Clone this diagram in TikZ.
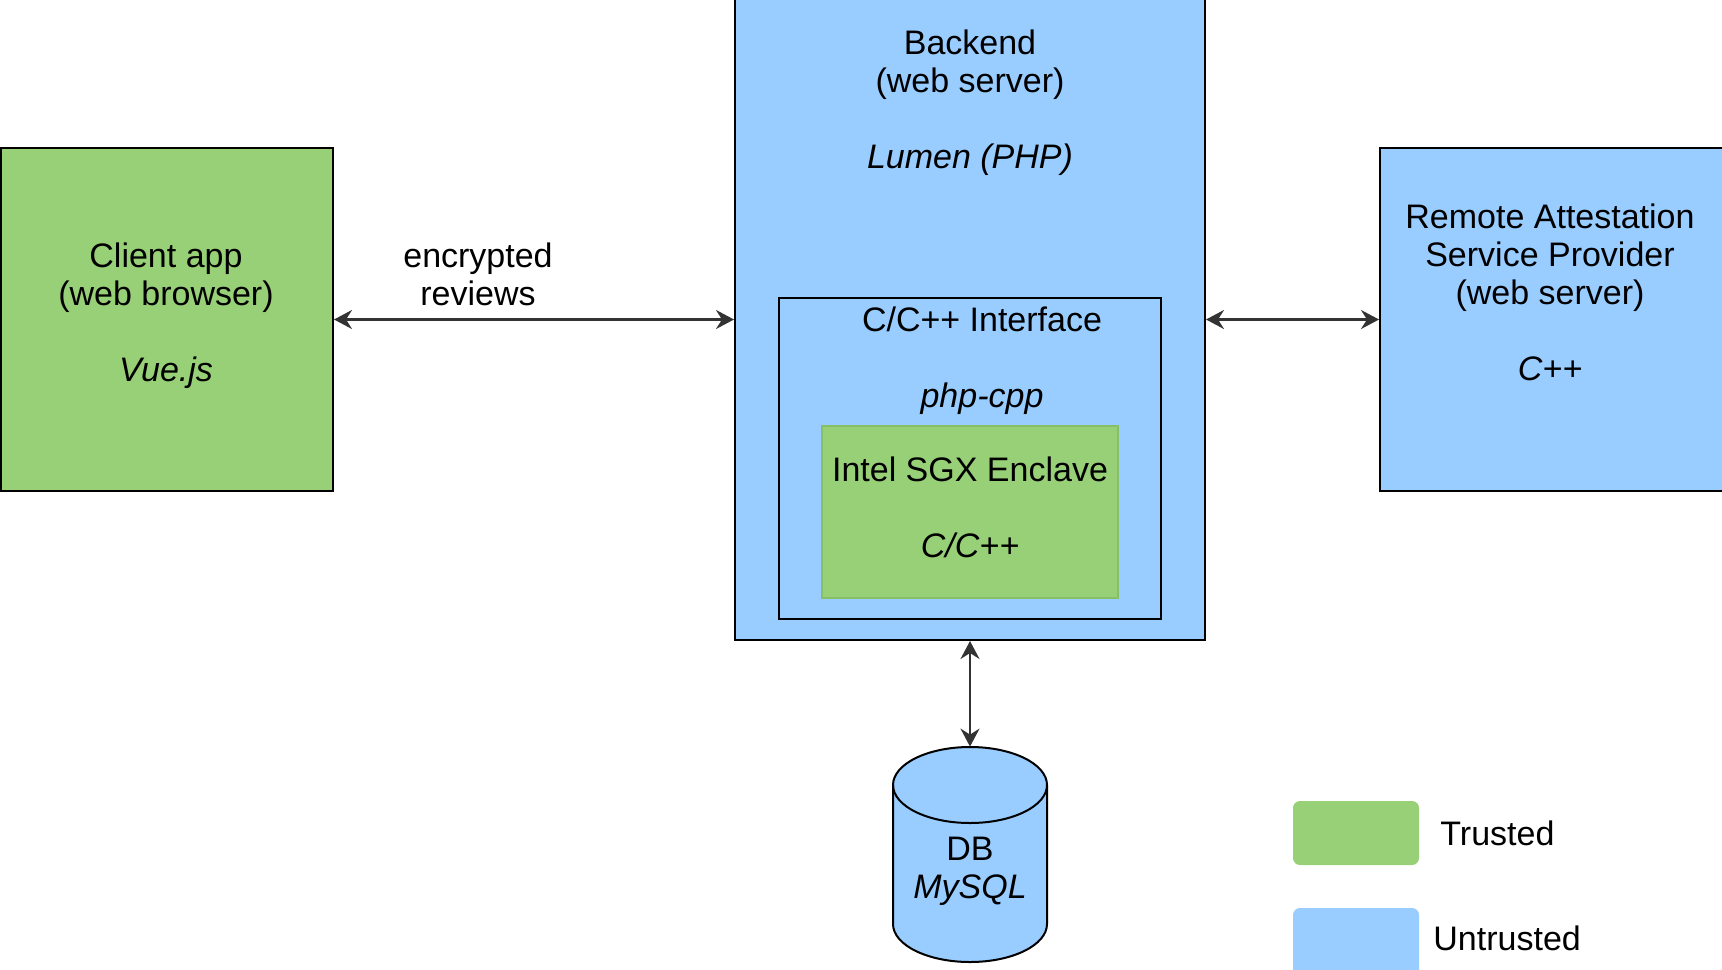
\documentclass[tikz,border=0pt]{standalone}
\usepackage{fontspec}
\setmainfont{Liberation Sans}
\usetikzlibrary{fit,arrows.meta}
\definecolor{tgreen}{HTML}{97D077}
\definecolor{ublue}{HTML}{99CCFF}
\definecolor{egreen}{HTML}{88C06A}
\begin{document}
\begin{tikzpicture}[x=0.5pt,y=-0.5pt,
  font=\fontsize{17}{19}\selectfont,
  box/.style={draw=black, line width=1pt, inner sep=0pt},
  trusted/.style={fill=tgreen},
  untrusted/.style={fill=ublue},
  txt/.style={align=center, inner sep=0pt},
  link/.style={line width=1.1pt, draw=black!80, {Stealth[length=9pt,width=9.5pt,inset=3pt]}-{Stealth[length=9pt,width=9.5pt,inset=3pt]}},
  legendbox/.style={rounded corners=3.5pt, inner sep=0pt}]
\clip (0,0) rectangle (1722,969);
\fill[white] (0,0) rectangle (1722,969);

% Client
\node[box, trusted, fit={(1,148)(333,491)}] (client) {};
\node[txt] (clienttxt) at (166,316) {Client app\\(web browser)\\[19pt]\textit{Vue.js}};

% Backend
\node[box, untrusted, fit={(735,-3)(1205,640)}] (backend) {};
\node[txt] (backendtxt) at (970,103) {Backend\\(web server)\\[19pt]\textit{Lumen (PHP)}};

% Interface
\node[box, untrusted, fit={(779,298)(1161,619)}] (iface) {};
\node[txt] (ifacetxt) at (982,361) {C/C++ Interface\\[19pt]\textit{php-cpp}};

% Enclave
\node[draw=egreen, line width=0.8pt, inner sep=0pt, trusted, fit={(822,426)(1118,598)}] (enclave) {};
\node[txt] (enclavetxt) at (970,507) {Intel SGX Enclave\\[19pt]\textit{C/C++}};

% Remote
\node[box, untrusted, fit={(1380,148)(1745,491)}] (remote) {};
\node[txt] (remotetxt) at (1550,292) {Remote Attestation\\Service Provider\\(web server)\\[19pt]\textit{C++}};

% DB
\node[inner sep=0pt, fit={(893,747)(1047,962)}] (db) {};
\draw[line width=1pt, fill=ublue] (446.5pt,-392.5pt) -- (446.5pt,-462pt)
  arc[start angle=180, end angle=360, x radius=38.5pt, y radius=19pt]
  -- (523.5pt,-392.5pt)
  arc[start angle=0, end angle=180, x radius=38.5pt, y radius=19pt] -- cycle;
\draw[line width=1pt] (446.5pt,-392.5pt)
  arc[start angle=180, end angle=360, x radius=38.5pt, y radius=19pt];
\node[txt] (dbtxt) at (970,871) {DB\\\textit{MySQL}};

% Connectors
\draw[link] (client.east) -- (client.east -| backend.west);
\node[txt] (enclabel) at (478,274) {encrypted\\reviews};
\draw[link] (remote.west -| backend.east) -- (remote.west);
\draw[link] (backend.south) -- (db.north);

% Legend
\node[legendbox, trusted, fit={(1293,801)(1419,865)}] (legtrusted) {};
\node[legendbox, untrusted, fit={(1293,908)(1419,990)}] (leguntrusted) {};
\node[anchor=west, inner sep=0pt] (legtrustedtxt) at (1440,833) {Trusted};
\node[anchor=west, inner sep=0pt] (leguntrustedtxt) at (1433,938) {Untrusted};
\end{tikzpicture}
\end{document}
